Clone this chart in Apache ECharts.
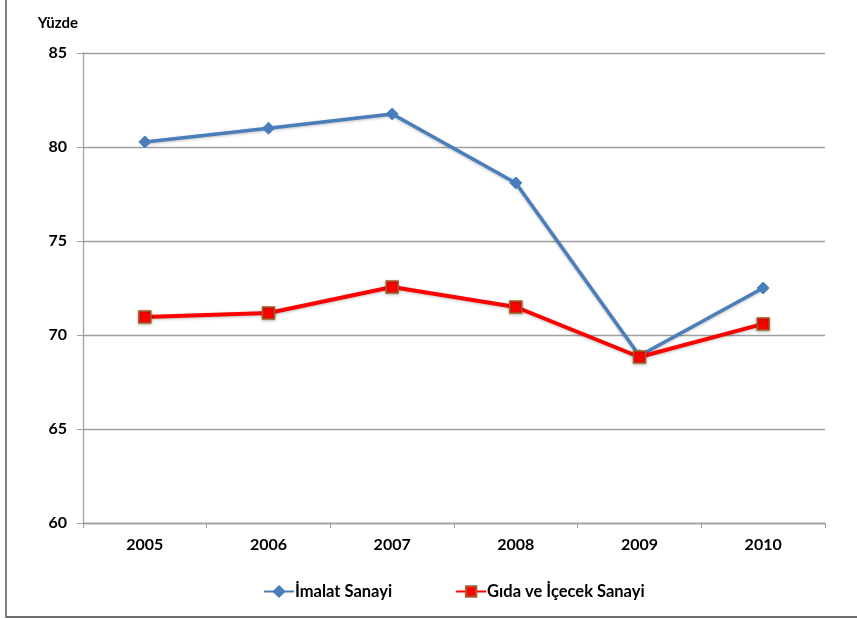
<!DOCTYPE html>
<html><head><meta charset="utf-8">
<script src="https://cdn.jsdelivr.net/npm/echarts@6/dist/echarts.min.js"></script>
<style>html,body{margin:0;padding:0;background:#fff}#c{width:857px;height:619px}</style>
</head><body><div id="c"></div>
<script>
const years = ['2005','2006','2007','2008','2009','2010'];
const imalat = [80.27, 81.0, 81.76, 78.09, 68.9, 72.5];
const gida = [70.96, 71.17, 72.55, 71.49, 68.83, 70.59];
const seriesNames = ['İmalat Sanayi', 'Gıda ve İçecek Sanayi'];
const yTitle = 'Yüzde';

const font = 'Lato, "Open Sans", sans-serif';
const chart = echarts.init(document.getElementById('c'));
chart.setOption({
  animation: false,
  backgroundColor: '#fff',
  graphic: [{
    type: 'rect', silent: true, z: -10,
    shape: {x: 6, y: -10, width: 900, height: 627},
    style: {fill: 'none', stroke: '#404040', lineWidth: 1.3}
  }],
  grid: {left: 83, right: 32, top: 53, bottom: 96},
  legend: {
    top: 578, left: 258, itemGap: 63, itemWidth: 30, itemHeight: 13,
    textStyle: {fontFamily: font, fontWeight: 'bold', fontSize: 16.5, color: '#000', padding: [0, 0, 0, -4]},
    data: seriesNames
  },
  xAxis: {
    type: 'category', data: years, boundaryGap: true,
    axisLine: {lineStyle: {color: '#a0a0a0', width: 1.3}},
    axisTick: {show: true, length: 5, lineStyle: {color: '#a0a0a0'}},
    axisLabel: {fontFamily: font, fontWeight: 'bold', fontSize: 16, color: '#000', margin: 14}
  },
  yAxis: {
    type: 'value', min: 60, max: 85, interval: 5,
    name: yTitle, nameLocation: 'end', nameGap: 22,
    nameTextStyle: {fontFamily: font, fontWeight: 'bold', fontSize: 15, color: '#000', align: 'right', padding: [0, 5, 0, 0]},
    axisLine: {show: true, lineStyle: {color: '#a0a0a0', width: 1.3}},
    axisTick: {show: true, length: 6, lineStyle: {color: '#a0a0a0'}},
    axisLabel: {fontFamily: font, fontWeight: 'bold', fontSize: 16, color: '#000', margin: 16},
    splitLine: {lineStyle: {color: '#a0a0a0', width: 1.3}}
  },
  series: [{
    name: seriesNames[0], type: 'line', data: imalat,
    symbol: 'diamond', symbolSize: 12,
    lineStyle: {color: '#4a7ebb', width: 3.5, shadowColor: 'rgba(0,0,0,0.25)', shadowBlur: 3, shadowOffsetY: 1},
    itemStyle: {color: '#4a7ebb', borderColor: '#4a7ebb', borderWidth: 1}
  }, {
    name: seriesNames[1], type: 'line', data: gida,
    symbol: 'rect', symbolSize: 12,
    lineStyle: {color: '#ff0000', width: 4, shadowColor: 'rgba(0,0,0,0.25)', shadowBlur: 3, shadowOffsetY: 1},
    itemStyle: {color: '#ff0000', borderColor: '#a0602a', borderWidth: 1.5, shadowColor: 'rgba(0,0,0,0.3)', shadowBlur: 3, shadowOffsetY: 1}
  }]
});
</script></body></html>
